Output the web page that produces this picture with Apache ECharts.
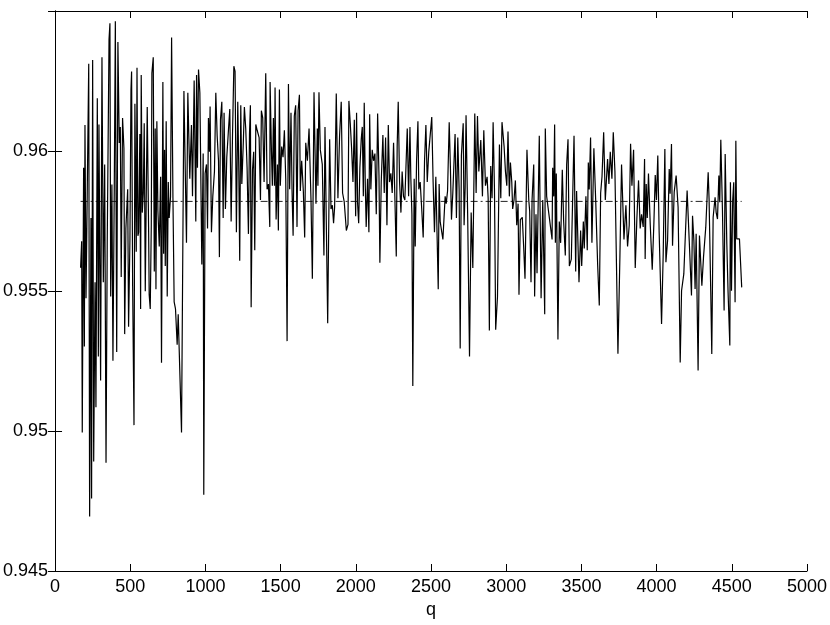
<!DOCTYPE html>
<html>
<head>
<meta charset="utf-8">
<script src="https://cdn.jsdelivr.net/npm/echarts@6/dist/echarts.min.js"></script>
<style>
html,body{margin:0;padding:0;background:#fff;}
#chart{width:830px;height:625px;}
</style>
</head>
<body>
<div id="chart"></div>
<script>
// Measured ratio against q: [q, value]
const ratioByQ = [
[170,0.95583],[177,0.95678],[181,0.94995],[190,0.95940],[195,0.95302],[199,0.96093],[206,0.95474],[224,0.96312],
[230,0.94695],[239,0.95761],[243,0.94759],[250,0.96325],[257,0.94891],[266,0.95531],[272,0.95085],[281,0.96188],
[288,0.95266],[292,0.96095],[303,0.95180],[312,0.96335],[321,0.95531],[330,0.95952],[339,0.94887],[347,0.95672],
[359,0.96399],[365,0.96456],[370,0.95480],[378,0.95880],[385,0.95251],[394,0.95876],[401,0.96463],[410,0.95282],
[418,0.96389],[427,0.96029],[434,0.96086],[440,0.95550],[449,0.96118],[458,0.96010],[463,0.95346],[471,0.95723],
[483,0.95863],[489,0.95372],[498,0.95684],[505,0.96220],[509,0.96284],[516,0.95518],[525,0.95021],[531,0.96169],
[540,0.95640],[545,0.96297],[551,0.95697],[556,0.95710],[564,0.96061],[569,0.95436],[573,0.96271],[580,0.95780],
[587,0.95850],[593,0.96099],[600,0.95499],[606,0.95812],[613,0.96157],[622,0.95729],[626,0.95487],[633,0.95436],
[640,0.95735],[644,0.96278],[653,0.96335],[660,0.95570],[666,0.96080],[671,0.95506],[677,0.96106],[684,0.95786],
[693,0.95659],[702,0.95908],[708,0.95244],[717,0.96246],[722,0.95633],[728,0.96004],[733,0.95589],[739,0.96106],
[746,0.95480],[753,0.95889],[759,0.95761],[768,0.95838],[775,0.96405],[784,0.95831],[792,0.95461],[801,0.95436],
[812,0.95308],[819,0.95417],[826,0.95282],[841,0.94995],[857,0.96214],[874,0.95672],[883,0.96208],
[896,0.95901],[907,0.96093],[914,0.95838],[925,0.96252],[936,0.95748],[941,0.96271],[947,0.95940],[954,0.96291],
[963,0.96208],[976,0.95595],[985,0.95991],[989,0.94772],[998,0.95920],[1007,0.95952],[1014,0.95723],[1020,0.96118],
[1027,0.95997],[1031,0.96159],[1040,0.95710],[1049,0.95838],[1060,0.95927],[1069,0.96208],[1078,0.96054],[1087,0.95965],
[1093,0.95621],[1100,0.96112],[1109,0.96176],[1118,0.95761],[1124,0.96137],[1133,0.95793],[1142,0.95978],[1153,0.96074],
[1162,0.96150],[1171,0.95748],[1180,0.96054],[1189,0.96303],[1197,0.96284],[1206,0.95710],[1215,0.96176],[1222,0.95927],
[1228,0.95608],[1235,0.96163],[1242,0.95882],[1251,0.96016],[1259,0.96157],[1268,0.96080],[1277,0.95940],[1286,0.95704],
[1293,0.96061],[1299,0.96163],[1304,0.95442],[1313,0.95933],[1321,0.95997],[1328,0.95646],[1335,0.96095],[1344,0.96074],
[1357,0.96048],[1366,0.95825],[1372,0.96144],[1381,0.96118],[1390,0.95889],[1401,0.96278],[1410,0.95863],[1419,0.95882],
[1428,0.95729],[1430,0.96246],[1439,0.95997],[1445,0.95876],[1452,0.96118],[1459,0.95876],[1463,0.96227],[1470,0.95755],
[1479,0.95952],[1485,0.95716],[1492,0.96220],[1498,0.95876],[1507,0.96016],[1516,0.95978],[1525,0.96074],[1534,0.95901],
[1543,0.95321],[1552,0.96239],[1560,0.95863],[1569,0.96137],[1576,0.95857],[1583,0.95697],[1591,0.96125],[1600,0.96163],
[1609,0.95729],[1616,0.96144],[1625,0.96201],[1631,0.95857],[1640,0.95965],[1651,0.95857],[1660,0.95691],[1667,0.96029],
[1678,0.95965],[1689,0.96080],
[1695,0.96086],[1702,0.95825],[1711,0.95544],[1722,0.96210],[1735,0.95812],[1744,0.96080],[1748,0.95876],[1755,0.96210],
[1764,0.96004],[1777,0.95952],[1788,0.95627],[1795,0.96086],[1813,0.95385],[1826,0.96042],[1835,0.95793],[1844,0.95806],
[1852,0.95742],[1859,0.95799],[1870,0.96205],[1881,0.95831],[1892,0.96054],[1903,0.96176],[1912,0.95850],[1923,0.95818],
[1930,0.95767],[1937,0.95716],[1948,0.95738],[1954,0.96179],[1963,0.96099],[1972,0.96010],[1981,0.95889],[1990,0.96112],
[1999,0.95767],[2005,0.96137],[2012,0.95812],[2019,0.95742],[2027,0.95940],[2036,0.96042],[2043,0.96086],[2050,0.95838],
[2056,0.96172],[2063,0.95876],[2069,0.95729],[2078,0.95901],[2087,0.95710],[2092,0.96131],[2100,0.95863],[2109,0.96004],
[2118,0.95965],[2127,0.95991],[2136,0.95774],[2145,0.96134],[2154,0.95914],[2160,0.95601],[2169,0.95889],[2180,0.96057],
[2189,0.95850],[2198,0.96048],[2207,0.95735],[2216,0.96093],[2224,0.95889],[2233,0.95920],[2242,0.95850],[2251,0.96029],
[2260,0.96035],[2269,0.95623],[2275,0.96016],[2282,0.96176],[2291,0.95889],[2300,0.95780],[2308,0.95927],[2317,0.95838],
[2326,0.95825],[2335,0.95818],[2342,0.96080],[2351,0.95838],[2360,0.96086],[2366,0.95901],[2373,0.95774],[2379,0.95161],
[2388,0.95901],[2395,0.95659],[2404,0.95965],[2413,0.96106],[2419,0.95863],[2428,0.95889],[2439,0.95786],[2448,0.95691],
[2457,0.95965],[2466,0.96093],[2475,0.95889],[2485,0.95997],
[2505,0.96121],[2514,0.95889],[2523,0.95710],[2532,0.95908],[2548,0.95506],[2554,0.95882],[2561,0.95748],[2579,0.95684],
[2594,0.95838],[2601,0.95812],[2610,0.95857],[2621,0.96103],[2629,0.95940],[2636,0.95755],[2645,0.95850],[2660,0.96061],
[2669,0.95761],[2678,0.96048],[2687,0.95863],[2694,0.95295],[2702,0.95984],[2714,0.96099],[2720,0.95735],[2727,0.95869],
[2733,0.96128],[2744,0.95761],[2756,0.95266],[2767,0.95780],[2778,0.95582],[2791,0.96134],[2800,0.95850],[2809,0.96125],
[2818,0.95927],[2831,0.96039],[2842,0.95838],[2851,0.96074],[2862,0.95876],[2873,0.95908],[2880,0.95831],[2888,0.95359],
[2897,0.95946],[2906,0.95831],[2913,0.96103],[2922,0.95863],[2930,0.95362],[2942,0.95480],[2955,0.96023],[2964,0.95831],
[2972,0.96103],[2986,0.96016],[2995,0.95927],[3004,0.95876],[3012,0.96070],[3021,0.95838],[3028,0.95959],[3037,0.95889],
[3043,0.95793],[3052,0.95825],[3061,0.95895],[3070,0.95735],[3079,0.95812],[3085,0.95487],[3094,0.95755],[3107,0.95763],
[3116,0.95659],[3125,0.95544],[3138,0.96004],[3150,0.95825],[3156,0.95786],[3165,0.95531],[3172,0.95827],[3183,0.95952],
[3189,0.95480],[3198,0.95774],[3205,0.95563],[3220,0.96054],
[3232,0.95474],[3243,0.95825],[3256,0.95417],[3260,0.96080],[3269,0.95838],[3287,0.95761],[3305,0.95684],[3309,0.95940],
[3316,0.95838],[3322,0.96095],[3327,0.95672],[3333,0.95920],[3344,0.95327],[3353,0.95748],[3362,0.95672],[3373,0.95933],
[3382,0.95748],[3393,0.95627],[3402,0.95952],[3411,0.96042],[3420,0.95589],[3433,0.95614],[3451,0.96054],[3462,0.95570],
[3468,0.95857],[3484,0.95531],[3495,0.95716],[3502,0.95589],[3513,0.95748],[3519,0.95652],[3530,0.95838],[3539,0.95646],
[3546,0.95959],[3552,0.95863],[3561,0.96048],[3570,0.95672],[3583,0.96010],[3595,0.95825],[3608,0.95595],[3619,0.95448],
[3628,0.95850],[3637,0.95908],[3648,0.96067],[3659,0.95825],[3674,0.95971],[3683,0.95882],[3692,0.95997],[3703,0.95901],
[3712,0.96067],[3723,0.95927],[3743,0.95276],[3756,0.95621],[3767,0.95952],[3783,0.95684],[3796,0.95806],[3807,0.95659],
[3818,0.95735],[3827,0.96026],[3836,0.95876],[3847,0.96004],[3858,0.95582],[3869,0.95761],[3880,0.95895],[3891,0.95723],
[3900,0.95774],[3911,0.95729],[3920,0.95971],[3924,0.95614],[3931,0.95882],[3938,0.95761],[3946,0.95920],[3958,0.95735],
[3971,0.95576],[3982,0.95742],[3991,0.95914],[3999,0.95825],[4008,0.95984],[4017,0.95710],
[4033,0.95382],[4044,0.95632],[4055,0.96007],[4062,0.95603],[4073,0.95680],[4084,0.95936],[4090,0.95847],[4099,0.96025],
[4106,0.95662],[4117,0.95853],[4130,0.95912],[4143,0.95799],[4157,0.95245],[4166,0.95501],[4181,0.95561],[4203,0.95859],
[4217,0.95680],[4232,0.95484],[4239,0.95769],[4248,0.95680],[4256,0.95507],[4263,0.95704],[4276,0.95216],[4285,0.95698],
[4301,0.95519],[4312,0.95621],[4327,0.95728],[4343,0.95924],[4349,0.95829],[4360,0.95501],[4367,0.95275],[4376,0.95763],
[4389,0.95835],[4396,0.95781],[4405,0.95757],[4414,0.95912],[4420,0.95817],[4427,0.96040],[4438,0.95787],[4449,0.95430],
[4456,0.95989],[4467,0.95668],[4475,0.95501],[4487,0.95305],[4491,0.95888],[4498,0.95501],[4506,0.95823],[4513,0.95888],
[4522,0.95460],[4527,0.96037],[4533,0.95686],[4551,0.95686],[4566,0.95513]
];
const meanRatio = [0.9582];
const xTickValues = [0, 500, 1000, 1500, 2000, 2500, 3000, 3500, 4000, 4500, 5000];
const yTickValues = [0.945, 0.95, 0.955, 0.96];
const xAxisName = 'q';

const qStart = ratioByQ[0][0];
const qEnd = ratioByQ[ratioByQ.length - 1][0];
const meanLine = [[qStart, meanRatio[0]], [qEnd, meanRatio[0]]];

const font = 'Liberation Sans, Arial, Helvetica, sans-serif';
const xMin = xTickValues[0], xMax = xTickValues[xTickValues.length - 1];
const xInt = xTickValues[1] - xTickValues[0];
const yMin = yTickValues[0], yInt = 0.005, yMax = 0.965;

function fmtY(v) {
  for (const t of yTickValues) if (Math.abs(v - t) < 1e-9) return String(parseFloat(t.toFixed(3)));
  return '';
}
function fmtX(v) {
  for (const t of xTickValues) if (Math.abs(v - t) < 1e-6) return String(t);
  return '';
}

const axisLine = { show: true, lineStyle: { color: '#000', width: 1 } };
const tick = { show: true, inside: true, length: 7, lineStyle: { color: '#000', width: 1 } };

const chart = echarts.init(document.getElementById('chart'), null, { renderer: 'canvas' });
chart.setOption({
  animation: false,
  backgroundColor: '#fff',
  grid: { left: 55, right: 21, top: 11, bottom: 54, containLabel: false },
  xAxis: [
    { type: 'value', position: 'bottom', min: xMin, max: xMax, interval: xInt,
      axisLine, axisTick: tick, splitLine: { show: false },
      axisLabel: { color: '#000', fontFamily: font, fontSize: 18, margin: 7, formatter: fmtX },
      name: xAxisName, nameLocation: 'middle', nameGap: 28,
      nameTextStyle: { color: '#000', fontFamily: font, fontSize: 18 } },
    { type: 'value', position: 'top', min: xMin, max: xMax, interval: xInt,
      axisLine, axisTick: tick, splitLine: { show: false }, axisLabel: { show: false } }
  ],
  yAxis: [
    { type: 'value', position: 'left', min: yMin, max: yMax, interval: yInt,
      axisLine, axisTick: tick, splitLine: { show: false },
      axisLabel: { color: '#000', fontFamily: font, fontSize: 18, margin: 7, formatter: fmtY } },
    { type: 'value', position: 'right', min: yMin, max: yMax, interval: yInt,
      axisLine, axisTick: tick, splitLine: { show: false }, axisLabel: { show: false } }
  ],
  series: [
    { type: 'line', data: ratioByQ, xAxisIndex: 0, yAxisIndex: 0, showSymbol: false, symbol: 'none',
      lineStyle: { color: '#000', width: 1.2 }, silent: true, z: 3 },
    { type: 'line', data: meanLine, xAxisIndex: 0, yAxisIndex: 0, showSymbol: false, symbol: 'none',
      lineStyle: { color: '#222', width: 1, type: [7, 3, 2, 3] }, silent: true, z: 2 }
  ]
});
</script>
</body>
</html>
